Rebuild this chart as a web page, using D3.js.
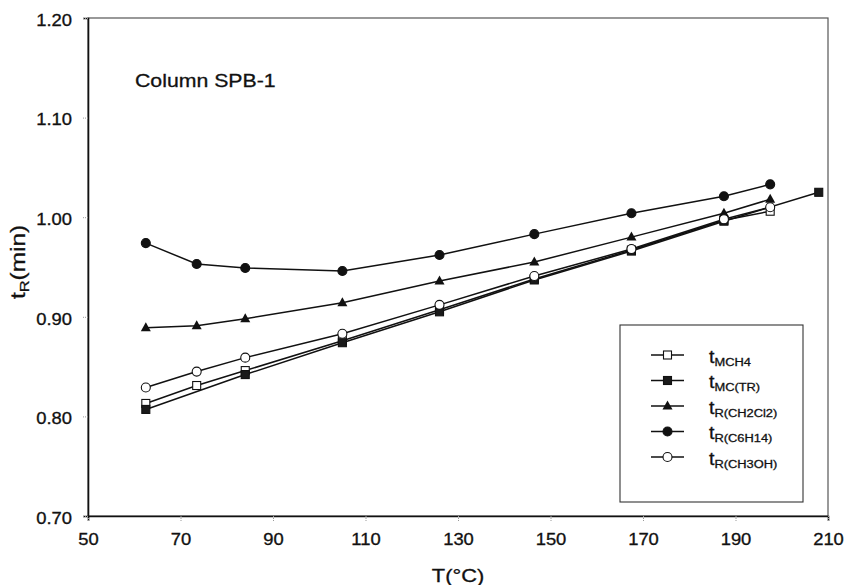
<!DOCTYPE html>
<html><head><meta charset="utf-8">
<script src="https://cdn.jsdelivr.net/npm/d3@7"></script>
<style>body{margin:0;background:#fff}svg{display:block}text{font-family:"Liberation Sans",Arial,sans-serif;fill:#111;stroke:#111;stroke-width:0.3px}</style>
</head><body>
<script>
const xTicks = [50,70,90,110,130,150,170,190,210];
const yTicks = [0.70,0.80,0.90,1.00,1.10,1.20];
const tempsA = [62.5,73.5,84,105,126,146.5,167.5,187.5,197.5];
const tempsTR = [62.5,84,105,126,146.5,167.5,187.5,208];
const valMCH4 = [0.813,0.831,0.846,0.876,0.907,0.938,0.967,0.997,1.006];
const valMCTR = [0.807,0.842,0.874,0.905,0.937,0.966,0.996,1.025];
const valCH2Cl2 = [0.889,0.891,0.898,0.914,0.936,0.955,0.980,1.004,1.018];
const valC6H14 = [0.974,0.953,0.949,0.946,0.962,0.983,1.004,1.021,1.033];
const valCH3OH = [0.829,0.845,0.859,0.883,0.912,0.941,0.968,0.998,1.010];
const seriesNames = ["MCH4","MC(TR)","R(CH2Cl2)","R(C6H14)","R(CH3OH)"];
const seriesMarkers = ["openSquare","filledSquare","triangle","filledCircle","openCircle"];

const series = [
  {sub:seriesNames[0], m:seriesMarkers[0], T:tempsA, v:valMCH4},
  {sub:seriesNames[1], m:seriesMarkers[1], T:tempsTR, v:valMCTR},
  {sub:seriesNames[2], m:seriesMarkers[2], T:tempsA, v:valCH2Cl2},
  {sub:seriesNames[3], m:seriesMarkers[3], T:tempsA, v:valC6H14},
  {sub:seriesNames[4], m:seriesMarkers[4], T:tempsA, v:valCH3OH}
];

const W=847,H=585;
const svg=d3.select("body").append("svg").attr("width",W).attr("height",H);
const x=d3.scaleLinear().domain([50,210]).range([88,828]);
const y=d3.scaleLinear().domain([0.70,1.20]).range([516,18]);

function stretch(sel,s){
  sel.each(function(){
    const t=d3.select(this); const ax=+t.attr("x")||0;
    t.attr("transform",`translate(${ax},0) scale(${s},1) translate(${-ax},0)`);
  });
}

svg.append("rect").attr("x",x(50)).attr("y",y(1.2)).attr("width",x(210)-x(50)).attr("height",y(0.7)-y(1.2))
  .attr("fill","none").attr("stroke","#555").attr("stroke-width",1.2);

const xa=svg.append("g").attr("transform",`translate(0,${y(0.7)})`)
  .call(d3.axisBottom(x).tickValues(xTicks).tickSize(5).tickPadding(13).tickFormat(d3.format("d")));
const ya=svg.append("g").attr("transform",`translate(${x(50)},0)`)
  .call(d3.axisLeft(y).tickValues(yTicks).tickSize(5).tickPadding(11).tickFormat(d3.format(".2f")));
[xa,ya].forEach(a=>{
  a.select(".domain").attr("stroke","#111").attr("stroke-width",1.6);
  a.selectAll(".tick line").attr("stroke","#999").attr("stroke-dasharray","1,1");
  a.selectAll(".tick text").attr("font-size",16).attr("fill","#111").attr("font-family","Liberation Sans, Arial, sans-serif");
});
ya.selectAll(".tick text").attr("dy","0.45em");
stretch(xa.selectAll(".tick text"),1.15);
stretch(ya.selectAll(".tick text"),1.15);

const xt=svg.append("text").attr("x",x(130)).attr("y",582).attr("text-anchor","middle").attr("font-size",19).text("T(°C)");
stretch(xt,1.15);
const yl=svg.append("text").attr("transform",`translate(25,${y(0.955)}) rotate(-90) scale(1.22,1)`).attr("text-anchor","middle").attr("font-size",20);
yl.append("tspan").text("t");
yl.append("tspan").attr("font-size",13.5).attr("dy",4).text("R");
yl.append("tspan").attr("dy",-4).text("(min)");
const ct=svg.append("text").attr("x",135).attr("y",87).attr("font-size",18.5).text("Column SPB-1");
stretch(ct,1.15);

function marker(g,type,cx,cy){
  if(type==="openSquare"||type==="filledSquare"){
    g.append("rect").attr("x",cx-4).attr("y",cy-4).attr("width",8).attr("height",8)
      .attr("fill",type==="openSquare"?"#fff":"#1a1a1a").attr("stroke","#111").attr("stroke-width",1.1);
  } else if(type==="triangle"){
    g.append("path").attr("d",`M${cx},${cy-5.5}L${cx+5},${cy+3.5}L${cx-5},${cy+3.5}Z`).attr("fill","#111");
  } else {
    g.append("circle").attr("cx",cx).attr("cy",cy).attr("r",4.5)
      .attr("fill",type==="openCircle"?"#fff":"#111").attr("stroke","#111").attr("stroke-width",1.1);
  }
}

const line=d3.line().x(d=>x(d[0])).y(d=>y(d[1]));
series.forEach(s=>{
  const pts=s.T.map((t,i)=>[t,s.v[i]]);
  const g=svg.append("g");
  g.append("path").attr("d",line(pts)).attr("fill","none").attr("stroke","#111").attr("stroke-width",1.5);
  pts.forEach(p=>marker(g,s.m,x(p[0]),y(p[1])));
});

const lg=svg.append("g");
lg.append("rect").attr("x",620).attr("y",325).attr("width",183).attr("height",177)
  .attr("fill","#fff").attr("stroke","#333").attr("stroke-width",1.1);
series.forEach((s,i)=>{
  const yy=355+i*25.5;
  lg.append("line").attr("x1",651).attr("x2",684).attr("y1",yy).attr("y2",yy).attr("stroke","#111").attr("stroke-width",1.5);
  marker(lg,s.m,667.5,yy);
  const t=lg.append("text").attr("x",709).attr("y",yy+8).attr("font-size",17.5);
  t.append("tspan").text("t");
  t.append("tspan").attr("font-size",11.5).attr("dy",3).text(s.sub);
  stretch(t,1.12);
});
</script>
</body></html>
